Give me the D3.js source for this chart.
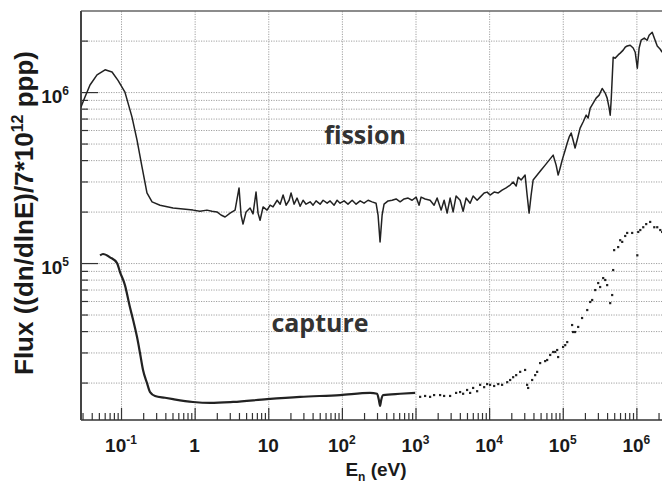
<!DOCTYPE html>
<html>
<head>
<meta charset="utf-8">
<script src="https://cdn.jsdelivr.net/npm/d3@7"></script>
<style>
  body { margin: 0; background: #fff; }
  svg { display: block; }
  .grid line { stroke: #a0a0a0; stroke-dasharray: 1.2,1.3; }
  .grid path { display: none; }
  .ticks path { display: none; }
  .ticks line { stroke: #333; stroke-width: 1.2; }
</style>
</head>
<body>
<svg id="chart" width="662" height="486"></svg>
<script>
// neutron energy (eV) and flux of the fission-chamber spectrum
const fissionE = [0.0286, 0.0324, 0.0379, 0.0472, 0.0607, 0.0755, 0.091, 0.113, 0.141, 0.165, 0.193, 0.225, 0.264, 0.339, 0.509, 0.95,
  1.18, 1.47, 1.72, 2.01, 2.28, 2.59, 3.03, 3.54, 4.01, 4.27, 4.54, 4.99, 5.66, 6.21, 6.82, 7.26, 7.74, 8.5, 9.63,
  10.6, 11.6, 13.2, 14.5, 15.9, 17.5, 19.2, 20.4, 22.4, 24.6, 27.1, 29.7, 32.6, 37.0, 40.6, 44.6, 50.6, 55.6, 63.0, 69.2, 78.4, 86.1, 94.6,
  107, 121, 138, 156, 177, 200, 227, 257, 291, 310, 330, 352, 374, 424, 481, 545, 618, 700, 793, 899,
  1019, 1119, 1191, 1350, 1578, 1789, 1965, 2228, 2447, 2687, 2951, 3241, 3561, 4036, 4433, 4868, 5519, 6062, 6872, 7548, 8557, 9398,
  1.03e4, 1.17e4, 1.33e4, 1.50e4, 1.70e4, 1.93e4, 2.12e4, 2.33e4, 2.48e4, 2.72e4, 3.08e4, 3.28e4, 3.49e4, 3.72e4, 3.96e4, 4.49e4,
  5.09e4, 5.77e4, 6.54e4, 7.41e4, 8.13e4, 8.66e4, 9.22e4, 9.82e4,
  1.08e5, 1.15e5, 1.22e5, 1.30e5, 1.38e5, 1.47e5, 1.57e5, 1.72e5, 1.89e5, 2.08e5, 2.21e5, 2.36e5, 2.59e5, 2.84e5, 3.12e5, 3.43e5,
  3.77e5, 4.01e5, 4.27e5, 4.41e5, 4.55e5, 4.84e5, 5.15e5, 5.66e5, 6.03e5, 6.62e5, 7.05e5, 7.50e5, 8.24e5, 9.05e5, 9.64e5,
  1.03e6, 1.09e6, 1.16e6, 1.28e6, 1.40e6, 1.49e6, 1.64e6, 1.75e6, 1.92e6, 2.11e6, 2.24e6];
const fissionFlux = [8.17e5, 9.35e5, 1.10e6, 1.26e6, 1.35e6, 1.31e6, 1.17e6, 1.0e6, 7.14e5, 5.24e5, 3.64e5, 2.57e5, 2.28e5, 2.18e5, 2.10e5, 2.04e5,
  2.01e5, 2.04e5, 2.01e5, 1.99e5, 1.91e5, 1.86e5, 1.96e5, 2.04e5, 2.75e5, 1.91e5, 1.69e5, 1.99e5, 2.10e5, 1.94e5, 2.60e5, 1.96e5, 1.78e5, 2.13e5, 2.04e5,
  2.18e5, 2.13e5, 2.33e5, 2.21e5, 2.50e5, 2.18e5, 2.33e5, 2.57e5, 2.21e5, 2.40e5, 2.15e5, 2.33e5, 2.21e5, 2.28e5, 2.18e5, 2.31e5, 2.21e5, 2.33e5, 2.24e5, 2.31e5, 2.18e5, 2.33e5, 2.24e5,
  2.31e5, 2.21e5, 2.33e5, 2.21e5, 2.31e5, 2.24e5, 2.33e5, 2.28e5, 2.24e5, 1.91e5, 1.33e5, 1.91e5, 2.21e5, 2.31e5, 2.33e5, 2.37e5, 2.28e5, 2.37e5, 2.40e5, 2.33e5,
  2.43e5, 2.18e5, 2.43e5, 2.37e5, 2.33e5, 2.18e5, 2.40e5, 2.04e5, 2.33e5, 1.96e5, 2.40e5, 1.99e5, 2.47e5, 2.33e5, 2.01e5, 2.40e5, 2.24e5, 2.47e5, 2.33e5, 2.43e5, 2.57e5, 2.60e5,
  2.50e5, 2.60e5, 2.57e5, 2.67e5, 2.75e5, 2.86e5, 2.98e5, 2.82e5, 3.18e5, 3.06e5, 3.27e5, 2.50e5, 1.96e5, 2.50e5, 3.06e5, 3.27e5,
  3.50e5, 3.74e5, 4.00e5, 4.28e5, 3.74e5, 3.27e5, 3.60e5, 4.00e5,
  4.58e5, 5.04e5, 5.45e5, 5.76e5, 5.24e5, 4.71e5, 5.24e5, 6.16e5, 6.68e5, 7.33e5, 7.05e5, 8.06e5, 8.63e5, 9.22e5, 9.60e5, 1.05e6,
  9.87e5, 9.22e5, 8.06e5, 7.33e5, 8.98e5, 1.60e6, 1.58e6, 1.65e6, 1.69e6, 1.76e6, 1.83e6, 1.86e6, 1.88e6, 1.81e6, 1.71e6,
  1.38e6, 1.81e6, 2.01e6, 2.07e6, 2.01e6, 2.15e6, 2.24e6, 2.07e6, 1.86e6, 1.78e6, 1.71e6];

// capture spectrum: continuous part up to ~1 keV
const captureE = [0.0519, 0.0569, 0.0709, 0.0883, 0.0969, 0.113, 0.132, 0.146, 0.165, 0.181, 0.199, 0.225, 0.248, 0.290, 0.396, 0.509, 0.95,
  1.62, 3.33, 9.63, 27.1, 94.6, 241, 301, 318, 330, 342, 363, 618, 989];
const captureFlux = [1.11e5, 1.13e5, 1.08e5, 1.0e5, 8.86e4, 7.43e4, 5.53e4, 4.64e4, 3.69e4, 2.98e4, 2.37e4, 1.99e4, 1.76e4, 1.67e4, 1.63e4, 1.60e4, 1.54e4,
  1.52e4, 1.54e4, 1.60e4, 1.65e4, 1.69e4, 1.74e4, 1.72e4, 1.58e4, 1.46e4, 1.58e4, 1.69e4, 1.72e4, 1.74e4];

// capture spectrum: scattered points above 1 keV
const captureDotE = [1156, 1350, 1578, 1789, 2158, 2447, 2951, 3561, 4036, 4433, 5020, 5519, 6062, 6872, 7548, 8557, 9398,
  1.03e4, 1.17e4, 1.33e4, 1.50e4, 1.76e4, 1.93e4, 2.12e4, 2.33e4, 2.64e4, 3.08e4, 3.28e4, 3.39e4, 3.84e4, 4.22e4, 4.49e4, 4.93e4,
  5.77e4, 6.14e4, 6.75e4, 7.41e4, 7.89e4, 8.40e4, 8.66e4, 1.01e5, 1.08e5, 1.15e5, 1.34e5, 1.38e5, 1.47e5, 1.62e5, 1.83e5,
  2.15e5, 2.36e5, 2.51e5, 2.76e5, 3.03e5, 3.22e5, 3.54e5, 3.77e5, 4.01e5, 4.41e5, 4.69e5, 4.84e5, 4.99e5, 5.66e5, 6.03e5,
  6.42e5, 7.05e5, 7.50e5, 8.77e5, 1.03e6, 1.06e6, 1.13e6, 1.24e6, 1.36e6, 1.54e6, 1.75e6, 1.92e6, 2.11e6, 2.24e6];
const captureDotFlux = [1.65e4, 1.67e4, 1.65e4, 1.69e4, 1.69e4, 1.67e4, 1.67e4, 1.74e4, 1.76e4, 1.72e4, 1.81e4, 1.74e4, 1.86e4, 1.78e4, 1.94e4, 1.88e4, 1.96e4,
  1.94e4, 1.91e4, 1.96e4, 1.94e4, 2.01e4, 2.07e4, 2.15e4, 2.21e4, 2.31e4, 2.37e4, 1.94e4, 1.86e4, 2.07e4, 2.21e4, 2.31e4, 2.60e4,
  2.67e4, 2.71e4, 2.90e4, 3.02e4, 3.02e4, 3.10e4, 2.82e4, 3.23e4, 3.31e4, 3.45e4, 4.34e4, 3.95e4, 3.95e4, 4.23e4, 4.77e4,
  5.31e4, 5.92e4, 6.08e4, 6.95e4, 7.64e4, 7.24e4, 8.17e4, 7.96e4, 7.43e4, 5.83e4, 6.50e4, 9.10e4, 1.19e5, 1.24e5, 1.36e5,
  1.33e5, 1.44e5, 1.50e5, 1.50e5, 1.11e5, 1.52e5, 1.56e5, 1.62e5, 1.69e5, 1.74e5, 1.62e5, 1.62e5, 1.56e5, 1.52e5];

// axis ticks
const xMajor = [0.1, 1, 10, 100, 1e3, 1e4, 1e5, 1e6, 1e7];
const xLabels = [["10", "-1"], ["1", ""], ["10", ""], ["10", "2"], ["10", "3"], ["10", "4"], ["10", "5"], ["10", "6"]];
const yMajor = [1e5, 1e6];
const yLabels = [["10", "5"], ["10", "6"]];

const svg = d3.select("#chart");
const plotLeft = 81, plotTop = 11, plotBottom = 420, plotRight = 710;

const x = d3.scaleLog().domain([0.0286, 1e7]).range([plotLeft, plotRight]);
const y = d3.scaleLog().domain([1.208e4, 2.98e6]).range([plotBottom, plotTop]);

// minor tick positions (2..9 per decade)
const xMinor = [];
for (let d = 0.01; d < 1e7; d *= 10)
  for (let k = 2; k <= 9; k++) { const v = d * k; if (v > 0.0286) xMinor.push(v); }
const yMinor = [];
for (let d = 1e4; d < 1e7; d *= 10)
  for (let k = 2; k <= 9; k++) { const v = d * k; if (v > 1.208e4 && v < 2.98e6) yMinor.push(v); }

svg.append("defs").append("clipPath").attr("id", "plot")
  .append("rect").attr("x", plotLeft).attr("y", plotTop)
  .attr("width", plotRight - plotLeft).attr("height", plotBottom - plotTop);

// grid
svg.append("g").attr("class", "grid")
  .attr("transform", `translate(0,${plotBottom})`)
  .call(d3.axisBottom(x).tickValues(xMajor).tickSize(-(plotBottom - plotTop)).tickFormat(""));
svg.append("g").attr("class", "grid")
  .attr("transform", `translate(${plotLeft},0)`)
  .call(d3.axisLeft(y).tickValues(yMinor.concat(yMajor)).tickSize(-(plotRight - plotLeft)).tickFormat(""));

// ticks inside the frame
svg.append("g").attr("class", "ticks")
  .attr("transform", `translate(0,${plotBottom})`)
  .call(d3.axisBottom(x).tickValues(xMinor).tickSize(-7).tickFormat(""));
svg.append("g").attr("class", "ticks")
  .attr("transform", `translate(0,${plotBottom})`)
  .call(d3.axisBottom(x).tickValues(xMajor).tickSize(-12).tickFormat(""));
svg.append("g").attr("class", "ticks")
  .attr("transform", `translate(${plotLeft},0)`)
  .call(d3.axisLeft(y).tickValues(yMinor).tickSize(-7).tickFormat(""));
svg.append("g").attr("class", "ticks")
  .attr("transform", `translate(${plotLeft},0)`)
  .call(d3.axisLeft(y).tickValues(yMajor).tickSize(-17).tickFormat(""));

// frame
svg.append("line").attr("x1", plotLeft).attr("x2", 662).attr("y1", plotTop).attr("y2", plotTop)
  .attr("stroke", "#666").attr("stroke-width", 1.5);
svg.append("line").attr("x1", plotLeft).attr("x2", 662).attr("y1", plotBottom).attr("y2", plotBottom)
  .attr("stroke", "#333").attr("stroke-width", 1.5);
svg.append("line").attr("x1", plotLeft).attr("x2", plotLeft).attr("y1", plotTop).attr("y2", plotBottom)
  .attr("stroke", "#444").attr("stroke-width", 2);

// curves
const plot = svg.append("g").attr("clip-path", "url(#plot)");
const line = d3.line().x(d => x(d[0])).y(d => y(d[1]));

plot.append("path")
  .datum(fissionE.map((e, i) => [e, fissionFlux[i]]))
  .attr("d", line)
  .attr("fill", "none").attr("stroke", "#222").attr("stroke-width", 1.5).attr("stroke-linejoin", "round");

plot.append("path")
  .datum(captureE.map((e, i) => [e, captureFlux[i]]))
  .attr("d", line.curve(d3.curveMonotoneX))
  .attr("fill", "none").attr("stroke", "#222").attr("stroke-width", 2.2);

plot.selectAll(".dot")
  .data(captureDotE.map((e, i) => [e, captureDotFlux[i]]))
  .enter().append("rect")
  .attr("class", "dot")
  .attr("x", d => x(d[0]) - 1.1)
  .attr("y", d => y(d[1]) - 1.1)
  .attr("width", 2.2).attr("height", 2.2)
  .attr("fill", "#222");

// tick labels
const lab = "'Liberation Sans', Arial, sans-serif";
const xl = svg.append("g").attr("font-family", lab).attr("font-weight", "bold").attr("fill", "#1a1a1a");
xLabels.forEach((t, i) => {
  const txt = xl.append("text").attr("x", x(xMajor[i])).attr("y", 452)
    .attr("text-anchor", "middle").attr("font-size", 19);
  txt.append("tspan").text(t[0]);
  if (t[1]) txt.append("tspan").attr("font-size", 12).attr("dy", -8).text(t[1]);
});
yLabels.forEach((t, i) => {
  const txt = xl.append("text").attr("x", 69).attr("y", y(yMajor[i]) + 11)
    .attr("text-anchor", "end").attr("font-size", 19);
  txt.append("tspan").text(t[0]);
  txt.append("tspan").attr("font-size", 12).attr("dy", -8).text(t[1]);
});

// axis titles
const xt = xl.append("text").attr("x", 376).attr("y", 476).attr("text-anchor", "middle").attr("font-size", 19);
xt.append("tspan").text("E");
xt.append("tspan").attr("font-size", 12).attr("dy", 5).text("n");
xt.append("tspan").attr("dy", -5).text(" (eV)");

const yt = xl.append("text").attr("transform", "translate(33,213) rotate(-90)")
  .attr("text-anchor", "middle").attr("font-size", 26);
yt.append("tspan").text("Flux ((dn/dlnE)/7*10");
yt.append("tspan").attr("font-size", 16).attr("dy", -10).text("12");
yt.append("tspan").attr("dy", 10).text(" ppp)");

// curve names
const nm = svg.append("g").attr("font-family", "'Open Sans', sans-serif").attr("font-weight", 700)
  .attr("font-size", 25).attr("fill", "#333").attr("text-anchor", "middle");
nm.append("text").attr("x", 365).attr("y", 144).text("fission");
nm.append("text").attr("x", 320).attr("y", 332).text("capture");
</script>
</body>
</html>
